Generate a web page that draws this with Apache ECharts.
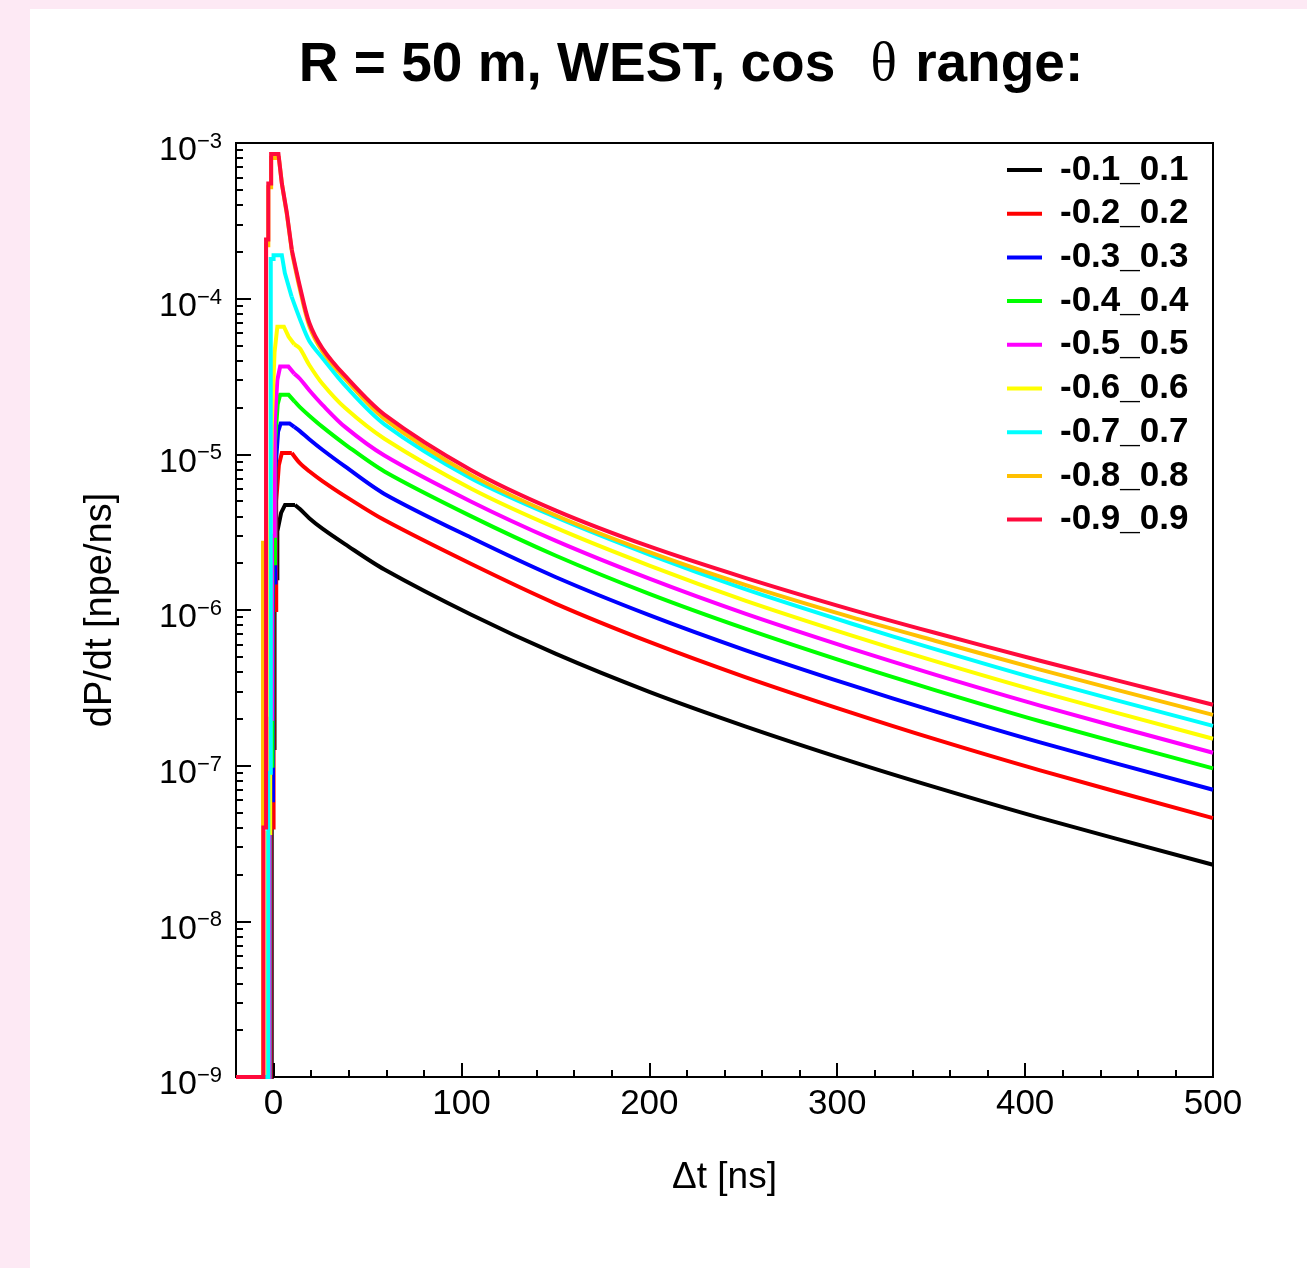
<!DOCTYPE html>
<html><head><meta charset="utf-8">
<script src="https://cdn.jsdelivr.net/npm/echarts@6/dist/echarts.min.js"></script>
<style>
html,body{margin:0;padding:0;background:#fde9f4;width:1307px;height:1268px;overflow:hidden}
#c{position:absolute;left:30px;top:9px;width:1277px;height:1259px;background:#ffffff}
</style></head><body><div id="c"></div>
<script>
const seriesNames = ['-0.1_0.1','-0.2_0.2','-0.3_0.3','-0.4_0.4','-0.5_0.5','-0.6_0.6','-0.7_0.7','-0.8_0.8','-0.9_0.9'];
const seriesColors = ['#000000','#ff0000','#0000ff','#00ff00','#ff00ff','#ffff00','#00ffff','#ffc000','#ff0a3c'];

// shared tail time grid (ns)
const tailT = [14, 19, 26, 38, 59, 105, 150, 200, 251, 307, 352, 408, 500];

// rise + peak region [t, dP/dt]
const head_01 = [[-20,1e-9],[-1,1e-9],[-1,1.3e-7],[0.5,1.3e-7],[0.5,1.6e-6],[2,1.6e-6],[2,3.2e-6],[4,4.2e-6],[6.1,4.73e-6],[11.4,4.73e-6]];
const tail_01 = [4.45e-6, 3.89e-6, 3.33e-6, 2.65e-6, 1.82e-6, 9.35e-7, 5.24e-7, 2.98e-7, 1.79e-7, 1.07e-7, 7.28e-8, 4.62e-8, 2.31e-8];

const head_02 = [[-20,1e-9],[-1.5,1e-9],[-1.5,4e-8],[0,4e-8],[0,1e-6],[1.4,1e-6],[1.4,5e-6],[2.8,8.5e-6],[4.4,1.02e-5],[9.7,1.02e-5]];
const tail_02 = [8.77e-6, 7.78e-6, 6.73e-6, 5.39e-6, 3.78e-6, 1.98e-6, 1.10e-6, 6.24e-7, 3.71e-7, 2.20e-7, 1.48e-7, 9.33e-8, 4.6e-8];

const head_03 = [[-20,1e-9],[-1.8,1e-9],[-1.8,6e-8],[-0.3,6e-8],[-0.3,1.5e-6],[1,1.5e-6],[1,8e-6],[2.4,1.4e-5],[3.8,1.58e-5],[8.5,1.58e-5],[11,1.5e-5]];
const tail_03 = [1.41e-5, 1.25e-5, 1.07e-5, 8.36e-6, 5.57e-6, 2.92e-6, 1.63e-6, 9.27e-7, 5.53e-7, 3.30e-7, 2.23e-7, 1.41e-7, 7.0e-8];

const head_04 = [[-20,1e-9],[-2,1e-9],[-2,1e-7],[-0.6,1e-7],[-0.6,2e-6],[0.8,2e-6],[0.8,1.2e-5],[2.2,2.1e-5],[3.5,2.41e-5],[8,2.41e-5],[11,2.2e-5]];
const tail_04 = [2.01e-5, 1.77e-5, 1.50e-5, 1.16e-5, 7.76e-6, 4.01e-6, 2.24e-6, 1.27e-6, 7.59e-7, 4.52e-7, 3.06e-7, 1.93e-7, 9.6e-8];

const head_05 = [[-20,1e-9],[-2.2,1e-9],[-2.2,2e-7],[-0.8,2e-7],[-0.8,3e-6],[0.6,3e-6],[0.6,1.6e-5],[2,3.0e-5],[3.5,3.66e-5],[7.9,3.66e-5],[11,3.3e-5]];
const tail_05 = [3.06e-5, 2.58e-5, 2.08e-5, 1.50e-5, 9.82e-6, 4.98e-6, 2.79e-6, 1.59e-6, 9.48e-7, 5.67e-7, 3.84e-7, 2.43e-7, 1.21e-7];

const head_06 = [[-20,1e-9],[-3.2,1e-9],[-3.2,3.7e-8],[-1.8,3.7e-8],[-1.8,2.7e-6],[-1,2.7e-6],[-1,1.5e-5],[0.5,4.5e-5],[2,6.6e-5],[5.5,6.6e-5],[8,5.7e-5],[11,5.1e-5]];
const tail_06 = [4.79e-5, 3.75e-5, 2.84e-5, 1.99e-5, 1.26e-5, 6.04e-6, 3.38e-6, 1.93e-6, 1.15e-6, 6.90e-7, 4.69e-7, 2.98e-7, 1.49e-7];

const head_07 = [[-20,1e-9],[-2.8,1e-9],[-2.8,9e-8],[-1.5,9e-8],[-1.5,1.8e-4],[0,1.8e-4],[0,1.9e-4],[4.4,1.9e-4],[6,1.46e-4],[9.6,1.03e-4]];
const tail_07 = [7.41e-5, 5.35e-5, 4.16e-5, 2.77e-5, 1.56e-5, 7.03e-6, 3.96e-6, 2.27e-6, 1.36e-6, 8.22e-7, 5.61e-7, 3.57e-7, 1.80e-7];

const head_08 = [[-20,1e-9],[-5.6,1e-9],[-5.6,2.7e-6],[-4,2.7e-6],[-4,2.2e-4],[-2.8,2.2e-4],[-2.8,5.2e-4],[-1.3,5.2e-4],[-1.3,8.0e-4],[2.8,8.0e-4],[4.6,5.3e-4],[7.2,3.4e-4],[9.9,1.95e-4]];
const tail_08 = [1.15e-4, 6.70e-5, 4.59e-5, 3.06e-5, 1.69e-5, 7.38e-6, 4.06e-6, 2.35e-6, 1.45e-6, 9.03e-7, 6.35e-7, 4.14e-7, 2.12e-7];

const head_09 = [[-20,1e-9],[-5.4,1e-9],[-5.4,4e-8],[-4,4e-8],[-4,2.4e-4],[-2.8,2.4e-4],[-2.8,5.5e-4],[-1.3,5.5e-4],[-1.3,8.5e-4],[2.6,8.5e-4],[4.4,5.5e-4],[7,3.6e-4],[9.7,2.06e-4]];
const tail_09 = [1.2e-4, 7.0e-5, 4.8e-5, 3.2e-5, 1.80e-5, 7.94e-6, 4.37e-6, 2.56e-6, 1.61e-6, 1.01e-6, 7.14e-7, 4.72e-7, 2.46e-7];

const heads = [head_01, head_02, head_03, head_04, head_05, head_06, head_07, head_08, head_09];
const tails = [tail_01, tail_02, tail_03, tail_04, tail_05, tail_06, tail_07, tail_08, tail_09];

// axis tick positions
const xMajorTicks = [0, 100, 200, 300, 400, 500];
const xMinorTicks = [20, 40, 60, 80, 120, 140, 160, 180, 220, 240, 260, 280, 320, 340, 360, 380, 420, 440, 460, 480];
const yDecades = [-9, -8, -7, -6, -5, -4, -3];
const yMinorMantissas = [2, 3, 4, 5, 6, 7, 8, 9];

const yMinorLog = [];
yDecades.slice(0, -1).forEach(e => yMinorMantissas.forEach(m => yMinorLog.push(Math.log10(m) + e)));

const FONT = 'Liberation Sans';

const series = [];
seriesNames.forEach((name, i) => {
  const head = heads[i];
  const tail = tailT.map((t, k) => [t, tails[i][k]]);
  const common = {
    name: name, type: 'line', symbol: 'none', showSymbol: false, clip: true,
    lineStyle: { color: seriesColors[i], width: 4, join: 'miter' },
    itemStyle: { color: seriesColors[i] }, animation: false
  };
  // rising edge (stepped, straight segments)
  series.push(Object.assign({}, common, { data: head }));
  // smooth decaying tail
  series.push(Object.assign({}, common, {
    data: [head[head.length - 1]].concat(tail),
    smooth: 0.3
  }));
});

const chart = echarts.init(document.getElementById('c'), null, { renderer: 'canvas' });
chart.setOption({
  animation: false,
  backgroundColor: '#ffffff',
  graphic: [{
    type: 'text',
    x: 661, y: 57,
    style: {
      text: 'R = 50 m, WEST, cos {t|θ} range:',
      fontFamily: FONT, fontWeight: 'bold', fontSize: 55,
      fill: '#000', align: 'center', verticalAlign: 'middle',
      rich: { t: { fontFamily: 'Liberation Serif', fontWeight: 'normal', fontSize: 55, fill: '#000', padding: [0, 3, 0, 20] } }
    }
  }],
  grid: {
    left: 206, top: 134, width: 977, height: 934,
    show: true, borderColor: '#000', borderWidth: 2, backgroundColor: '#fff'
  },
  legend: {
    orient: 'vertical',
    left: 972, top: 138,
    icon: 'rect', itemWidth: 35, itemHeight: 4,
    itemGap: 7.7,
    data: seriesNames,
    textStyle: { fontFamily: FONT, fontWeight: 'bold', fontSize: 35, color: '#000', lineHeight: 36, padding: [0, 0, 0, 13] }
  },
  xAxis: [{
    type: 'value', min: -20, max: 500,
    name: 'Δt [ns]', nameLocation: 'middle', nameGap: 82,
    nameTextStyle: { fontFamily: FONT, fontSize: 37, color: '#000' },
    axisLine: { show: true, onZero: false, lineStyle: { color: '#000', width: 2 } },
    axisTick: { show: true, inside: true, length: 14, customValues: xMajorTicks, lineStyle: { color: '#000', width: 2 } },
    axisLabel: { show: true, customValues: xMajorTicks, margin: 10, fontFamily: FONT, fontSize: 35, color: '#000' },
    splitLine: { show: false }
  }, {
    type: 'value', min: -20, max: 500, position: 'bottom',
    axisLine: { show: false, onZero: false },
    axisTick: { show: true, inside: true, length: 7, customValues: xMinorTicks, lineStyle: { color: '#000', width: 2 } },
    axisLabel: { show: false },
    splitLine: { show: false }
  }],
  yAxis: [{
    type: 'log', logBase: 10, min: 1e-9, max: 1e-3, interval: 1,
    name: 'dP/dt [npe/ns]', nameLocation: 'middle', nameGap: 116,
    nameTextStyle: { fontFamily: FONT, fontSize: 38, color: '#000' },
    axisLine: { show: true, onZero: false, lineStyle: { color: '#000', width: 2 } },
    axisTick: { show: true, inside: true, length: 15, lineStyle: { color: '#000', width: 2 } },
    axisLabel: {
      show: true, margin: 14, padding: [16, 0, 0, 0],
      formatter: function (v) {
        const e = Math.round(Math.log10(v));
        return '{b|10}{s|' + (e < 0 ? '\u2212' + (-e) : e) + '}';
      },
      rich: {
        b: { fontFamily: FONT, fontSize: 34, color: '#000', lineHeight: 40 },
        s: { fontFamily: FONT, fontSize: 22, color: '#000', lineHeight: 22, verticalAlign: 'top' }
      }
    },
    splitLine: { show: false },
    minorTick: { show: false }
  }, {
    type: 'value', min: -9, max: -3, position: 'left',
    axisLine: { show: false, onZero: false },
    axisTick: { show: true, inside: true, length: 7, customValues: yMinorLog, lineStyle: { color: '#000', width: 2 } },
    axisLabel: { show: false },
    splitLine: { show: false }
  }],
  series: series
});
</script></body></html>
